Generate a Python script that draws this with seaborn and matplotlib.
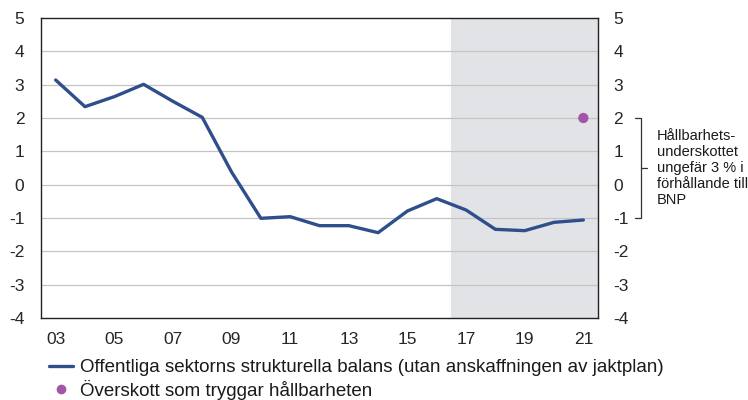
import matplotlib
matplotlib.use("Agg")
import matplotlib.pyplot as plt
import matplotlib.transforms as mtransforms
from matplotlib.lines import Line2D
import numpy as np
import pandas as pd
import seaborn as sns

# Structural balance of general government, % of GDP, 2003-2021
years = ["03", "04", "05", "06", "07", "08", "09", "10", "11", "12",
         "13", "14", "15", "16", "17", "18", "19", "20", "21"]
balance = [3.14, 2.34, 2.64, 3.01, 2.50, 2.02, 0.38, -1.01, -0.96, -1.23,
           -1.23, -1.44, -0.79, -0.42, -0.76, -1.34, -1.38, -1.13, -1.06]
# Surplus consistent with long-run sustainability
target_year = "21"
target_value = 2.0
forecast_start = "17"

series_label = "Offentliga sektorns strukturella balans (utan anskaffningen av jaktplan)"
target_label = "Överskott som tryggar hållbarheten"
note_text = "Hållbarhets-\nunderskottet\nungefär 3 % i\nförhållande till\nBNP"

line_color = "#2f4e8c"
dot_color = "#a256a8"
shade_color = "#e2e3e6"
grid_color = "#c4c4c4"

sns.set_theme(style="white")
plt.rcParams["font.family"] = ["Liberation Sans", "DejaVu Sans"]
plt.rcParams["text.color"] = "#1a1a1a"

tick_fs = 12.5
legend_fs = 13.5

df = pd.DataFrame({"year": years, "balance": balance})
df["pos"] = np.arange(len(years))
target_df = pd.DataFrame({"pos": [years.index(target_year)], "value": [target_value]})

fig = plt.figure(figsize=(7.48, 4.0), dpi=100)
ax = fig.add_axes([41 / 748, 1 - 318 / 400, 557 / 748, 300 / 400])

n = len(years)
ax.set_xlim(-0.5, n - 0.5)
ax.set_ylim(-4, 5)

# forecast period shading
ax.axvspan(years.index(forecast_start) - 0.5, n - 0.5, color=shade_color, zorder=0, lw=0)

# horizontal gridlines
for v in range(-3, 5):
    ax.axhline(v, color=grid_color, lw=0.9, zorder=0.5)

sns.lineplot(data=df, x="pos", y="balance", ax=ax, color=line_color, lw=2.4,
             label=series_label, legend=False, zorder=3)
sns.scatterplot(data=target_df, x="pos", y="value", ax=ax, color=dot_color, s=55,
                edgecolor="none", label=target_label, legend=False, zorder=4)

ax.set_xlabel("")
ax.set_ylabel("")

# x axis: labels on every other year, tick marks at year boundaries
ax.set_xticks(df["pos"][::2])
ax.set_xticklabels(years[::2], fontsize=tick_fs)
ax.tick_params(axis="x", which="major", length=0, pad=10)
ax.set_xticks(np.arange(0.5, n - 1, 1.0), minor=True)
ax.tick_params(axis="x", which="minor", direction="in", length=5, width=0.9, color="#222222")

yt = list(range(-4, 6))
ax.set_yticks(yt)
ax.set_yticklabels([str(v) for v in yt], fontsize=tick_fs)
ax.tick_params(axis="y", length=0, pad=12)

for side in ["left", "right", "top", "bottom"]:
    ax.spines[side].set_visible(True)
    ax.spines[side].set_color("#222222")
    ax.spines[side].set_linewidth(1.0)

ax2 = ax.twinx()
ax2.set_ylim(-4, 5)
ax2.set_yticks(yt)
ax2.set_yticklabels([str(v) for v in yt], fontsize=tick_fs)
ax2.tick_params(axis="y", length=0, pad=11)
for side in ["left", "right", "top", "bottom"]:
    ax2.spines[side].set_visible(False)

# bracket marking the sustainability gap
trans = mtransforms.blended_transform_factory(ax.transAxes, ax.transData)
x_hook = (635 - 41) / 557
x_bar = (641 - 41) / 557
x_tip = (647 - 41) / 557
lo, hi = -1.0, target_value
mid = (lo + hi) / 2
bracket_kw = dict(transform=trans, color="#333333", lw=0.9, clip_on=False)
ax.add_line(Line2D([x_hook, x_bar, x_bar, x_hook], [hi, hi, lo, lo], **bracket_kw))
ax.add_line(Line2D([x_bar, x_tip], [mid, mid], **bracket_kw))
ax.text((657 - 41) / 557, mid, note_text, transform=trans, fontsize=10.5,
        va="center", ha="left", linespacing=1.2)

handles = [Line2D([], [], color=line_color, lw=2.4),
           Line2D([], [], color=dot_color, marker="o", ms=6, lw=0)]
fig.legend(handles, [series_label, target_label], loc="upper left",
           bbox_to_anchor=(49 / 748, 1 - 359 / 400), frameon=False, fontsize=legend_fs,
           handlelength=1.3, handletextpad=0.35, labelspacing=0.2, borderpad=0,
           borderaxespad=0)

fig.savefig("out.png", dpi=100)
